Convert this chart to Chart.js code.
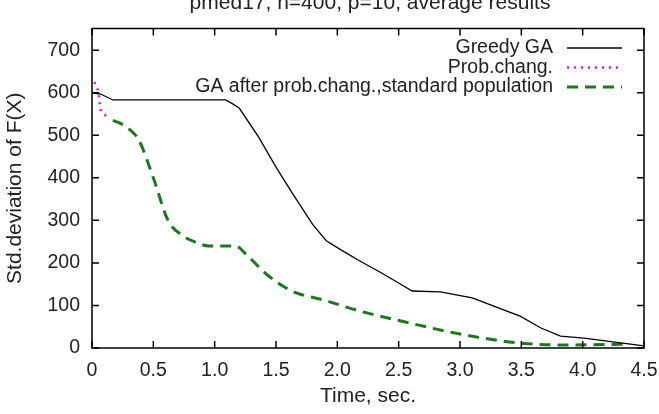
<!DOCTYPE html>
<html>
<head>
<meta charset="utf-8">
<script src="https://cdn.jsdelivr.net/npm/chart.js@4"></script>
<style>
  html, body { margin: 0; padding: 0; background: #fff; }
  #wrap { width: 659px; height: 414px; }
</style>
</head>
<body>
<div id="wrap"><canvas id="stdChart" width="659" height="414"></canvas></div>
<script>
// DATA
const titleText = "pmed17, n=400, p=10, average results";
const seriesNames = ["Greedy GA", "Prob.chang.", "GA after prob.chang.,standard population"];

const greedyTime = [0, 0.07, 0.17, 1.09, 1.14, 1.2, 1.36, 1.5, 1.63, 1.8, 1.91, 2.04, 2.18, 2.35, 2.51, 2.61, 2.84, 3.1, 3.27, 3.49, 3.66, 3.82, 4.01, 4.31, 4.5];
const greedyStd  = [600, 597, 583, 583, 575, 564, 495, 425, 365, 290, 252, 229, 205, 178, 151, 134, 132, 118, 99, 75, 47, 28, 23, 12, 5];

const probTime = [0.02, 0.05, 0.07, 0.1, 0.15];
const probStd  = [625, 605, 560, 548, 542];

const gaTime = [0.17, 0.25, 0.32, 0.38, 0.5, 0.62, 0.75, 0.85, 0.95, 1.17, 1.25, 1.42, 1.63, 1.91, 2.18, 2.51, 3.0, 3.47, 3.88, 4.34];
const gaStd  = [535, 525, 510, 490, 400, 300, 262, 248, 240, 240, 222, 174, 134, 111, 87, 64, 33, 12, 7, 9];

const xTicks = [0, 0.5, 1, 1.5, 2, 2.5, 3, 3.5, 4, 4.5];
const yTicks = [0, 100, 200, 300, 400, 500, 600, 700];

function toPoints(xs, ys) {
    return xs.map((x, i) => ({ x: x, y: ys[i] }));
}

const FONT = "'Liberation Sans', Arial, sans-serif";

// frame, inner ticks on all four sides, title and key
const framePlugin = {
    id: "frame",
    afterDatasetsDraw(chart) {
        const c = chart.ctx;
        const a = chart.chartArea;
        const xs = chart.scales.x;
        const ys = chart.scales.y;
        c.save();
        c.strokeStyle = "#000";
        c.lineWidth = 1.5;
        c.strokeRect(a.left, a.top, a.right - a.left, a.bottom - a.top);
        c.beginPath();
        xTicks.forEach(v => {
            const px = xs.getPixelForValue(v);
            c.moveTo(px, a.bottom); c.lineTo(px, a.bottom - 7);
            c.moveTo(px, a.top); c.lineTo(px, a.top + 7);
        });
        yTicks.forEach(v => {
            const py = ys.getPixelForValue(v);
            c.moveTo(a.left, py); c.lineTo(a.left + 7, py);
            c.moveTo(a.right, py); c.lineTo(a.right - 7, py);
        });
        c.stroke();

        // title, partly cut at the top like the source
        c.fillStyle = "#222";
        c.font = "21px " + FONT;
        c.textAlign = "center";
        c.textBaseline = "alphabetic";
        c.fillText(titleText, 370, 9);

        // key
        c.font = "19.5px " + FONT;
        c.textAlign = "right";
        c.textBaseline = "middle";
        chart.data.datasets.forEach((ds, i) => {
            const y = 48 + i * 19.5;
            c.fillStyle = "#222";
            c.fillText(ds.label, 553, y);
            c.strokeStyle = ds.borderColor;
            c.lineWidth = ds.borderWidth;
            c.setLineDash(ds.borderDash || []);
            c.beginPath();
            c.moveTo(567, y); c.lineTo(622, y);
            c.stroke();
        });
        c.restore();
    }
};

const ctx = document.getElementById("stdChart");

const chart = new Chart(ctx, {
    type: "line",
    data: {
        datasets: [
            {
                label: seriesNames[0],
                data: toPoints(greedyTime, greedyStd),
                borderColor: "#000000",
                borderWidth: 1.3,
                tension: 0
            },
            {
                label: seriesNames[1],
                data: toPoints(probTime, probStd),
                borderColor: "#ff00ff",
                borderWidth: 2.5,
                borderDash: [2, 5],
                tension: 0
            },
            {
                label: seriesNames[2],
                data: toPoints(gaTime, gaStd),
                borderColor: "#1a7a1a",
                borderWidth: 3,
                borderDash: [11, 7],
                cubicInterpolationMode: "monotone"
            }
        ]
    },
    options: {
        responsive: false,
        animation: false,
        layout: { padding: { top: 28.5, right: 15, left: 0, bottom: 0 } },
        elements: { point: { radius: 0 } },
        plugins: {
            legend: { display: false },
            tooltip: { enabled: false }
        },
        scales: {
            x: {
                type: "linear",
                min: 0,
                max: 4.5,
                grid: { display: false, drawTicks: false },
                border: { display: false },
                afterBuildTicks: s => { s.ticks = xTicks.map(v => ({ value: v })); },
                afterFit: s => { s.height = 66; s.paddingLeft = 0; s.paddingRight = 0; },
                ticks: {
                    color: "#222",
                    padding: 11,
                    maxRotation: 0,
                    font: { family: FONT, size: 19.5 }
                },
                title: {
                    display: true,
                    text: "Time, sec.",
                    color: "#222",
                    padding: { top: 4, bottom: 5 },
                    font: { family: FONT, size: 21 }
                }
            },
            y: {
                min: 0,
                max: 751,
                grid: { display: false, drawTicks: false },
                border: { display: false },
                afterBuildTicks: s => { s.ticks = yTicks.map(v => ({ value: v })); },
                afterFit: s => { s.width = 92; s.paddingTop = 0; s.paddingBottom = 0; },
                ticks: {
                    color: "#222",
                    padding: 12,
                    font: { family: FONT, size: 19.5 }
                },
                title: {
                    display: true,
                    text: "Std.deviation of F(X)",
                    color: "#222",
                    padding: { top: 3, bottom: 4 },
                    font: { family: FONT, size: 21 }
                }
            }
        }
    },
    plugins: [framePlugin]
});
</script>
</body>
</html>
